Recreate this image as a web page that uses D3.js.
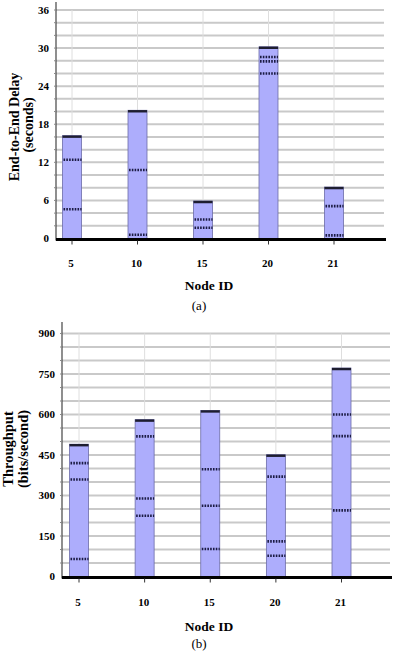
<!DOCTYPE html>
<html>
<head>
<meta charset="utf-8">
<script src="https://cdn.jsdelivr.net/npm/d3@7/dist/d3.min.js"></script>
<style>
  html, body { margin: 0; padding: 0; background: #fff; }
  svg { display: block; }
</style>
</head>
<body>
<svg id="chart" width="395" height="652"></svg>
<script>
// ---- data ----
const nodes = ["5", "10", "15", "20", "21"];

const delayValues = [16.2, 20.2, 5.9, 30.2, 8.1];
const delayMarks = [[12.4, 4.6], [10.8, 0.6], [3.0, 1.7], [28.6, 27.9, 26.0], [5.1, 0.5]];
const delayTicks = [0, 6, 12, 18, 24, 30, 36];
const delayMinorStep = 2;

const throughputValues = [490, 581, 615, 451, 772];
const throughputMarks = [[420, 359, 65], [519, 289, 225], [397, 262, 102], [370, 130, 77], [600, 520, 245]];
const throughputTicks = [0, 150, 300, 450, 600, 750, 900];
const throughputMinorStep = 50;

const FONT = "'Liberation Serif', 'Times New Roman', 'DejaVu Serif', serif";

// ---- drawing ----
const svg = d3.select("#chart");

function drawPanel(cfg) {
  const g = svg.append("g").attr("font-family", FONT);
  const y = d3.scaleLinear().domain([0, cfg.ticks[cfg.ticks.length - 1]]).range([cfg.y0, cfg.yTop]);
  const x = d3.scalePoint().domain(nodes).range([cfg.x0, cfg.x1]);
  const barW = 19;

  const grid = d3.range(cfg.minor, cfg.ticks[cfg.ticks.length - 1] + cfg.minor / 2, cfg.minor);
  g.selectAll(".hg").data(grid).join("line")
    .attr("x1", cfg.left).attr("x2", cfg.right)
    .attr("y1", d => y(d)).attr("y2", d => y(d))
    .attr("stroke", "#c9c9c9").attr("stroke-width", 2);

  g.selectAll(".vg").data(nodes).join("line")
    .attr("x1", d => x(d)).attr("x2", d => x(d))
    .attr("y1", y(cfg.ticks[cfg.ticks.length - 1])).attr("y2", cfg.y0)
    .attr("stroke", "#dedede").attr("stroke-width", 1);

  g.selectAll(".bar").data(cfg.values).join("rect")
    .attr("x", (d, i) => x(nodes[i]) - barW / 2)
    .attr("width", barW)
    .attr("y", d => y(d))
    .attr("height", d => cfg.y0 - y(d))
    .attr("fill", "#adadfc")
    .attr("stroke", "#6d6da8").attr("stroke-width", 0.8);

  g.selectAll(".cap").data(cfg.values).join("line")
    .attr("x1", (d, i) => x(nodes[i]) - barW / 2)
    .attr("x2", (d, i) => x(nodes[i]) + barW / 2)
    .attr("y1", d => y(d) + 1).attr("y2", d => y(d) + 1)
    .attr("stroke", "#1e1e30").attr("stroke-width", 2.4);

  const marks = [];
  cfg.marks.forEach((arr, i) => arr.forEach(v => marks.push({ node: nodes[i], v })));
  g.selectAll(".mk").data(marks).join("line")
    .attr("x1", d => x(d.node) - barW / 2 + 1)
    .attr("x2", d => x(d.node) + barW / 2)
    .attr("y1", d => y(d.v)).attr("y2", d => y(d.v))
    .attr("stroke", "#1c1c44").attr("stroke-width", 2.6)
    .attr("stroke-dasharray", "1.6,1.2");

  g.append("line")
    .attr("x1", cfg.left).attr("x2", cfg.left)
    .attr("y1", cfg.axisTop).attr("y2", cfg.y0 + 2)
    .attr("stroke", "#444").attr("stroke-width", 1.2);

  g.selectAll(".lt").data(grid).join("line")
    .attr("x1", cfg.left - 2).attr("x2", cfg.left)
    .attr("y1", d => y(d)).attr("y2", d => y(d))
    .attr("stroke", "#888").attr("stroke-width", 1);

  g.append("line")
    .attr("x1", cfg.left).attr("x2", cfg.right + 2)
    .attr("y1", cfg.y0 + 1).attr("y2", cfg.y0 + 1)
    .attr("stroke", "#000").attr("stroke-width", 3);

  g.selectAll(".xt").data(nodes).join("line")
    .attr("x1", d => x(d)).attr("x2", d => x(d))
    .attr("y1", cfg.y0 + 2).attr("y2", cfg.y0 + 6)
    .attr("stroke", "#333").attr("stroke-width", 1);

  g.selectAll(".yl").data(cfg.ticks).join("text")
    .attr("font-family", FONT)
    .attr("x", cfg.left - 7).attr("y", d => y(d))
    .attr("dy", "0.35em")
    .attr("text-anchor", "end")
    .attr("font-size", 11).attr("font-weight", "bold")
    .text(d => d);

  g.selectAll(".xl").data(nodes).join("text")
    .attr("font-family", FONT)
    .attr("x", d => x(d) - 1).attr("y", cfg.xLabelY)
    .attr("text-anchor", "middle")
    .attr("font-size", 11).attr("font-weight", "bold")
    .text(d => d);

  g.append("text")
    .attr("font-family", FONT)
    .attr("x", 209).attr("y", cfg.xTitleY)
    .attr("text-anchor", "middle")
    .attr("font-size", 13.5).attr("font-weight", "bold")
    .text("Node ID");

  g.append("text")
    .attr("font-family", FONT)
    .attr("x", 199).attr("y", cfg.capY)
    .attr("text-anchor", "middle")
    .attr("font-size", 13)
    .text(cfg.caption);

  cfg.yTitles.forEach(t => {
    g.append("text")
      .attr("font-family", FONT)
      .attr("transform", `translate(${t.x},${t.y}) rotate(-90)`)
      .attr("text-anchor", "middle")
      .attr("dy", "0.35em")
      .attr("font-size", cfg.yTitleSize).attr("font-weight", "bold")
      .text(t.text);
  });
}

drawPanel({
  values: delayValues, marks: delayMarks, ticks: delayTicks, minor: delayMinorStep,
  left: 56, right: 384, x0: 72, x1: 334, y0: 238.5, yTop: 10, axisTop: 2,
  xLabelY: 267, xTitleY: 290, capY: 310, caption: "(a)", yTitleSize: 14,
  yTitles: [{ x: 14, y: 127, text: "End-to-End Delay" }, { x: 28, y: 125, text: "(seconds)" }]
});

drawPanel({
  values: throughputValues, marks: throughputMarks, ticks: throughputTicks, minor: throughputMinorStep,
  left: 62, right: 390, x0: 79, x1: 341.5, y0: 576.5, yTop: 333.5, axisTop: 322,
  xLabelY: 606, xTitleY: 631, capY: 648, caption: "(b)", yTitleSize: 14.5,
  yTitles: [{ x: 8, y: 449, text: "Throughput" }, { x: 23, y: 449, text: "(bits/second)" }]
});
</script>
</body>
</html>
